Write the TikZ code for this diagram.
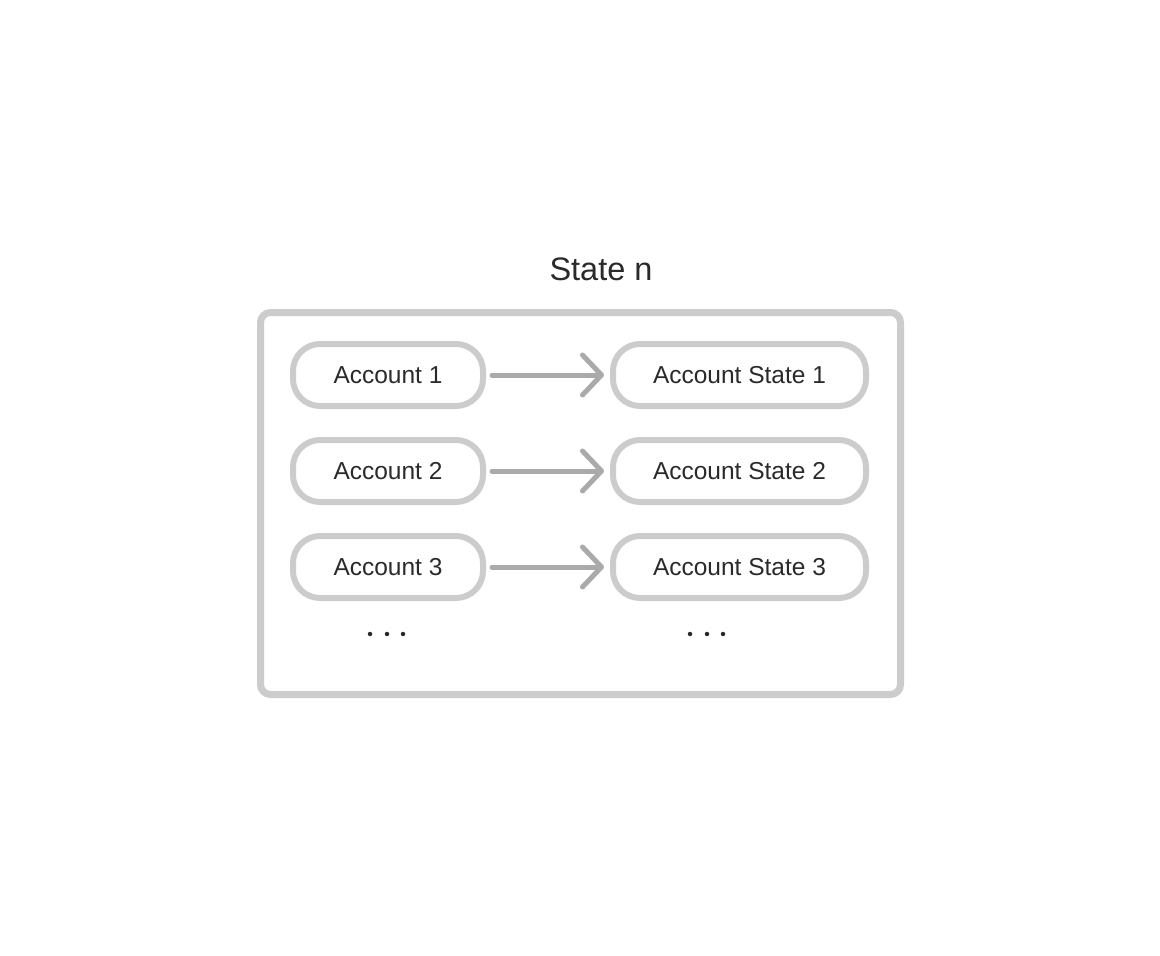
\documentclass[tikz,border=0pt]{standalone}
\usepackage{fontspec}
\setmainfont{Liberation Sans}
\usetikzlibrary{arrows.meta}
\definecolor{boxgray}{HTML}{CCCCCC}
\definecolor{arrgray}{HTML}{AAAAAA}
\definecolor{txt}{HTML}{2A2A2A}
\begin{document}
\begin{tikzpicture}[x=1pt,y=-1pt,
  acc/.style={draw=boxgray,line width=6pt,rounded corners=27pt,minimum height=62pt,inner sep=0pt,text=txt,font=\fontsize{24.5}{28}\selectfont},
  accl/.style={acc,minimum width=190pt},
  accr/.style={acc,minimum width=253pt},
  conn/.style={draw=arrgray,line width=5pt,line cap=round,-{Straight Barb[length=19pt,width=40pt,line cap=round,line join=round]}},
  dot/.style={circle,fill=txt,inner sep=0pt,minimum size=4.5pt}]
\useasboundingbox (0,0) rectangle (1160,956);
\fill[white] (0,0) rectangle (1160,956);
\node[text=txt,font=\fontsize{32.5}{38}\selectfont] (title) at (601,269) {State n};
\node[draw=boxgray,line width=7pt,rounded corners=10pt,minimum width=640pt,minimum height=382pt,inner sep=0pt] (outer) at (580.5,503.5) {};
\foreach \i/\y in {1/375,2/471,3/567}{
  \node[accl] (a\i) at (388,\y) {Account \i};
  \node[accr] (s\i) at (739.5,\y) {Account State \i};
  \draw[conn] ([xshift=6pt]a\i.east) -- ([xshift=-6pt]s\i.west);
}
\node[dot] (l1) at (370,634) {};
\node[dot] (l2) at (387,634) {};
\node[dot] (l3) at (403,634) {};
\node[dot] (r1) at (690,634) {};
\node[dot] (r2) at (707,634) {};
\node[dot] (r3) at (723,634) {};
\end{tikzpicture}
\end{document}
